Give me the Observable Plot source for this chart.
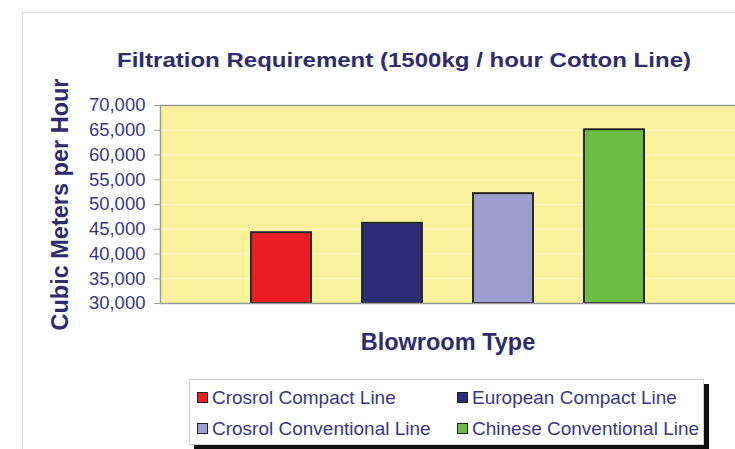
<!DOCTYPE html>
<html>
<head>
<meta charset="utf-8">
<script src="https://cdn.jsdelivr.net/npm/d3@7"></script>
<script src="https://cdn.jsdelivr.net/npm/@observablehq/plot@0.6"></script>
<style>
  html, body { margin:0; padding:0; background:#fff; }
  #wrap { position:relative; width:735px; height:449px; overflow:hidden; background:#fff; font-family:"Liberation Sans", Arial, sans-serif; }
  #border { position:absolute; left:22px; top:12px; width:740px; height:460px; border:1px solid #dcdcdc; }
  #title { position:absolute; left:404px; top:48px; font-size:21px; line-height:24px; font-weight:bold; color:#2e2c6e; white-space:nowrap; transform-origin:0 0; }
  #chart { position:absolute; left:0; top:0; }
  #legend { position:absolute; left:189px; top:379px; width:513px; height:64px; background:#fff; border:1px solid #cfcfcf; box-shadow:5px 5px 0 #111; }
  .item { position:absolute; font-size:19px; color:#3a3785; white-space:nowrap; line-height:20px; }
  .sw { display:inline-block; width:9px; height:9px; border:1px solid #222; margin-right:4px; vertical-align:1px; }
</style>
</head>
<body>
<div id="wrap">
  <div id="border"></div>
  <div id="title"></div>
  <div id="chart"></div>
  <div id="legend"></div>
</div>
<script>
const title = "Filtration Requirement (1500kg / hour Cotton Line)";
const yLabel = "Cubic Meters per Hour";
const xLabel = "Blowroom Type";
const series = ["Crosrol Compact Line", "European Compact Line", "Crosrol Conventional Line", "Chinese Conventional Line"];
const values = [44300, 46200, 52200, 65100];
const colors = ["#ee1d25", "#2b2a78", "#9d9dce", "#6cbd45"];
const yTicks = [30000, 35000, 40000, 45000, 50000, 55000, 60000, 65000, 70000];

const rows = series.map((s, i) => ({series: s, value: values[i]}));
const yMin = yTicks[0];

// title, stretched horizontally like the original
const t = document.getElementById("title");
t.textContent = title;
const tw = t.getBoundingClientRect().width;
const sx = 574 / tw;
t.style.transform = `scaleX(${sx}) translateX(${-tw / 2}px)`;

const chart = Plot.plot({
  width: 735,
  height: 449,
  marginLeft: 160,
  marginRight: 0,
  marginTop: 105,
  marginBottom: 146,
  style: {fontFamily: "'Liberation Sans', Arial, sans-serif", background: "transparent", overflow: "visible"},
  x: {domain: series, paddingInner: 0.46, paddingOuter: 0.82},
  y: {domain: [yTicks[0], yTicks[yTicks.length - 1]]},
  color: {domain: series, range: colors},
  marks: [
    Plot.frame({fill: "#f9f19b", stroke: null}),
    Plot.gridY(yTicks, {stroke: "#fffbe0", strokeOpacity: 0.6}),
    Plot.frame({anchor: "top", stroke: "#9a9a9a", strokeWidth: 1.5}),
    Plot.frame({anchor: "left", stroke: "#9a9a9a", strokeWidth: 1.5}),
    Plot.barY(rows, {x: "series", y1: yMin, y2: "value", fill: "series", stroke: "#2a2a2a", strokeWidth: 2}),
    Plot.ruleY([yMin], {stroke: "#9a9a9a", strokeWidth: 1.5}),
    Plot.axisY({
      ticks: yTicks, tickFormat: d3.format(","), tickSize: 6, tickPadding: 9,
      fontSize: 18.5, stroke: "#a0a0a0", fill: "#3a3785", label: null
    }),
    Plot.axisY({
      ticks: [], label: yLabel, labelAnchor: "center", labelOffset: 109, labelArrow: "none",
      fontSize: 23.5, fontWeight: "bold", fill: "#2e2c6e"
    }),
    Plot.axisX({
      ticks: [], label: xLabel, labelAnchor: "center", labelOffset: 46, labelArrow: "none",
      fontSize: 23.5, fontWeight: "bold", fill: "#2e2c6e"
    })
  ]
});
document.getElementById("chart").appendChild(chart);

const legend = document.getElementById("legend");
const pos = [[7, 8], [267, 8], [7, 39], [267, 39]];
series.forEach((s, i) => {
  const d = document.createElement("div");
  d.className = "item";
  d.style.left = pos[i][0] + "px";
  d.style.top = pos[i][1] + "px";
  const sw = document.createElement("span");
  sw.className = "sw";
  sw.style.background = colors[i];
  d.appendChild(sw);
  d.appendChild(document.createTextNode(s));
  legend.appendChild(d);
});
</script>
</body>
</html>
